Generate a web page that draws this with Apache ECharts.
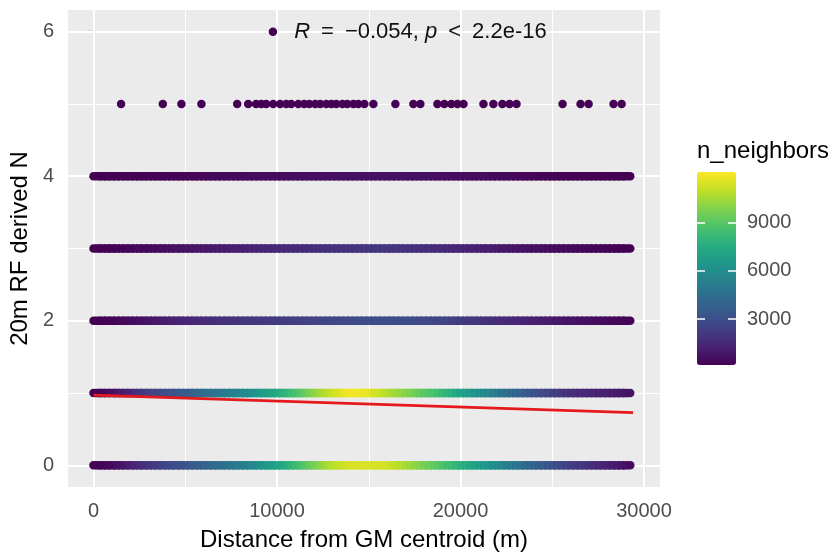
<!DOCTYPE html>
<html><head><meta charset="utf-8">
<script src="https://cdn.jsdelivr.net/npm/echarts@6/dist/echarts.min.js"></script>
<style>html,body{margin:0;padding:0;background:#fff}#chart{width:836px;height:557px}</style>
</head><body><div id="chart"></div>
<script>
// ---- data ----
const distance = [0,250,500,750,1000,1250,1500,1750,2000,2250,2500,2750,3000,3250,3500,3750,4000,4250,4500,4750,5000,5250,5500,5750,6000,6250,6500,6750,7000,7250,7500,7750,8000,8250,8500,8750,9000,9250,9500,9750,10000,10250,10500,10750,11000,11250,11500,11750,12000,12250,12500,12750,13000,13250,13500,13750,14000,14250,14500,14750,15000,15250,15500,15750,16000,16250,16500,16750,17000,17250,17500,17750,18000,18250,18500,18750,19000,19250,19500,19750,20000,20250,20500,20750,21000,21250,21500,21750,22000,22250,22500,22750,23000,23250,23500,23750,24000,24250,24500,24750,25000,25250,25500,25750,26000,26250,26500,26750,27000,27250,27500,27750,28000,28250,28500,28750,29000,29250];
// n_neighbors along each horizontal row (y = 0..4)
const nRow0 = [50,160,280,390, 500,680,850,1030, 1200,1400,1600,1800, 2000,2160,2330,2490, 2650,2800,2950,3100, 3250,3400,3550,3700, 3850,4000,4150,4300, 4450,4630,4800,4980, 5150,5360,5580,5790, 6000,6250,6500,6750, 7000,7300,7600,7900, 8200,8550,8900,9250, 9600,9900,10200,10500, 10800,10950,11100,11250, 11400,11430,11450,11480, 11500,11450,11400,11350, 11300,11130,10950,10780, 10600,10380,10150,9930, 9700,9480,9250,9030, 8800,8550,8300,8050, 7800,7550,7300,7050, 6800,6580,6350,6130, 5900,5650,5400,5150, 4900,4650,4400,4150, 4000,3780,3550,3330, 3100,2930,2750,2580, 2400,2250,2100,1950, 1800,1680,1550,1430, 1300,1150,1000,850, 700,500];
const nRow1 = [50,190,330,460, 600,800,1000,1200, 1400,1650,1900,2150, 2400,2550,2700,2850, 3000,3150,3300,3450, 3600,3780,3950,4130, 4300,4480,4650,4830, 5000,5150,5300,5450, 5600,5800,6000,6200, 6400,6650,6900,7150, 7400,7700,8000,8300, 8600,8950,9300,9650, 10000,10300,10600,10900, 11200,11400,11600,11800, 12000,11950,11850,11780, 11700,11480,11250,11030, 10800,10600,10400,10200, 10000,9780,9550,9330, 9100,8880,8650,8430, 8200,7950,7700,7450, 7200,6930,6650,6380, 6100,5830,5550,5280, 5000,4780,4550,4330, 4100,3880,3650,3430, 3200,3000,2800,2600, 2400,2250,2100,1950, 1800,1710,1630,1540, 1450,1390,1330,1260, 1200,1110,1030,940, 850,750];
const nRow2 = [80,120,170,210, 250,310,380,440, 500,580,650,730, 800,880,950,1030, 1100,1180,1250,1330, 1400,1450,1500,1550, 1600,1650,1700,1750, 1800,1840,1880,1910, 1950,1990,2030,2060, 2100,2130,2150,2180, 2200,2240,2280,2310, 2350,2390,2430,2460, 2500,2540,2580,2610, 2650,2690,2730,2760, 2800,2830,2850,2880, 2900,2910,2930,2940, 2950,2940,2930,2910, 2900,2880,2850,2830, 2800,2740,2680,2610, 2550,2480,2400,2330, 2250,2180,2100,2030, 1950,1890,1830,1760, 1700,1640,1580,1510, 1450,1390,1330,1260, 1200,1150,1100,1050, 1000,950,900,850, 800,750,700,650, 600,560,530,490, 450,410,380,340, 300,260];
const nRow3 = [60,80,110,130, 150,190,230,260, 300,340,380,410, 450,490,530,560, 600,640,680,710, 750,790,830,860, 900,940,980,1010, 1050,1090,1130,1160, 1200,1240,1280,1310, 1350,1390,1430,1460, 1500,1530,1550,1580, 1600,1630,1650,1680, 1700,1730,1750,1780, 1800,1830,1850,1880, 1900,1930,1950,1980, 2000,2000,2000,2000, 2000,1980,1950,1930, 1900,1860,1830,1790, 1750,1710,1680,1640, 1600,1550,1500,1450, 1400,1350,1300,1250, 1200,1150,1100,1050, 1000,960,930,890, 850,810,780,740, 700,660,630,590, 550,520,490,450, 420,400,370,350, 320,300,280,250, 230,210,190,170, 150,120];
const nRow4 = [50,60,70,75, 80,90,100,110, 120,130,145,160, 170,180,195,210, 220,230,245,260, 270,280,295,310, 320,330,345,360, 370,380,395,410, 420,430,445,460, 470,480,495,510, 520,530,540,550, 560,570,580,590, 600,610,620,630, 640,650,655,665, 670,680,685,695, 700,700,700,700, 700,695,690,685, 680,670,665,655, 650,640,625,610, 600,590,575,560, 550,530,515,500, 480,465,450,435, 420,405,390,375, 360,345,330,315, 300,290,275,260, 250,240,225,210, 200,190,180,170, 160,150,140,130, 120,110,105,95, 90,80];
const rowLevels = [0, 1, 2, 3, 4];
// sparse points at y = 5
const x5 = [1500,3775,4790,5880,7830,8430,8860,9140,9410,9790,10170,10500,10770,11160,11480,11760,12080,12360,12680,12960,13230,13560,13830,14160,14430,14760,15250,16450,17430,17810,18740,19120,19500,19830,20160,21250,21790,22280,22670,23050,25560,26540,26980,28340,28780];
const n5 = [30,30,30,30,30,30,30,30,30,30,30,30,30,30,30,30,30,30,30,30,30,30,30,30,30,30,30,30,30,30,30,30,30,30,30,30,30,30,30,30,30,30,30,30,30];
// single point at y = 6
const x6 = [9775];
const n6 = [30];
// linear fit (red)
const fitX = [0, 29400];
const fitY = [0.97, 0.73];
const corLabel = ['R', '\u2002=\u2002\u22120.054, ', 'p', '\u2002<\u20022.2e-16'];
// axes / ticks
const xTicks = [0, 10000, 20000, 30000];
const xMinor = [5000, 15000, 25000];
const yTicks = [0, 2, 4, 6];
const yMinor = [1, 3, 5];
const colorTicks = [3000, 6000, 9000];
const colorRange = [150, 12150];
const viridis = ['#440154','#482475','#414487','#355f8d','#2a788e','#21918c','#22a884','#44bf70','#7ad151','#bddf26','#fde725'];

// ---- build ----
const FONT = 'Liberation Sans, Arial, sans-serif';
const DOT = 8.5;
const rows = [nRow0, nRow1, nRow2, nRow3, nRow4];
const rowPts = [];
rows.forEach((vals, r) => {
  vals.forEach((v, i) => {
    const isEnd = (i === 0 || i === vals.length - 1);
    rowPts.push(isEnd
      ? { value: [distance[i], rowLevels[r], v], symbol: 'circle', symbolSize: DOT }
      : { value: [distance[i], rowLevels[r], v] });
  });
});
const dotPts = [];
x5.forEach((x, i) => dotPts.push([x, 5, n5[i]]));
dotPts.push({ value: [x6[0], 6, n6[0]], label: {
  show: true, position: 'right', distance: 17,
  formatter: '{i|' + corLabel[0] + '}' + corLabel[1] + '{i|' + corLabel[2] + '}' + corLabel[3],
  fontSize: 22, color: '#111', fontFamily: FONT,
  rich: { i: { fontStyle: 'italic', fontSize: 22, color: '#111', fontFamily: FONT } }
}});

const plain = v => String(v);
const gridLines = [];
xTicks.forEach(v => gridLines.push({ xAxis: v, lineStyle: { color: '#fff', width: 2, type: 'solid' } }));
xMinor.forEach(v => gridLines.push({ xAxis: v, lineStyle: { color: '#fff', width: 1, type: 'solid' } }));
yTicks.forEach(v => gridLines.push({ yAxis: v, lineStyle: { color: '#fff', width: 2, type: 'solid' } }));
yMinor.forEach(v => gridLines.push({ yAxis: v, lineStyle: { color: '#fff', width: 1, type: 'solid' } }));

const chart = echarts.init(document.getElementById('chart'), null, { renderer: 'canvas' });
chart.setOption({
  animation: false,
  backgroundColor: '#ffffff',
  textStyle: { fontFamily: FONT },
  title: {
    text: 'n_neighbors', left: 697, top: 139, padding: 0,
    textStyle: { fontSize: 24, fontWeight: 'normal', color: '#000', fontFamily: FONT }
  },
  grid: [
    { left: 68, top: 10, width: 592, height: 478, show: true, backgroundColor: '#ebebeb', borderWidth: 0, z: 0 },
    { left: 697, top: 172, width: 39, height: 193, show: false }
  ],
  xAxis: [
    {
      type: 'value', gridIndex: 0, min: -1390, max: 30870,
      name: 'Distance from GM centroid (m)', nameLocation: 'middle', nameGap: 41,
      nameTextStyle: { fontSize: 24, color: '#000', fontFamily: FONT },
      axisLine: { show: false },
      axisTick: { show: true, customValues: xTicks, length: 6, lineStyle: { color: '#333', width: 1.2 } },
      axisLabel: { customValues: xTicks, formatter: plain, margin: 14, fontSize: 20, color: '#4d4d4d', fontFamily: FONT },
      splitLine: { show: false }
    },
    { type: 'value', gridIndex: 1, min: 0, max: 1, show: false }
  ],
  yAxis: [
    {
      type: 'value', gridIndex: 0, min: -0.3, max: 6.3,
      name: '20m RF derived N', nameLocation: 'middle', nameGap: 22, nameRotate: 90,
      nameTextStyle: { fontSize: 24, color: '#000', fontFamily: FONT },
      axisLine: { show: false },
      axisTick: { show: true, customValues: yTicks, length: 6, lineStyle: { color: '#333', width: 1.2 } },
      axisLabel: { customValues: yTicks, formatter: plain, margin: 14, fontSize: 20, color: '#4d4d4d', fontFamily: FONT },
      splitLine: { show: false }
    },
    {
      type: 'value', gridIndex: 1, position: 'left', min: colorRange[0], max: colorRange[1], z: 20,
      axisLine: { show: false },
      axisTick: { show: true, inside: true, customValues: colorTicks, length: 8, lineStyle: { color: '#fff', width: 1.5 } },
      axisLabel: { show: false }, splitLine: { show: false }
    },
    {
      type: 'value', gridIndex: 1, position: 'right', min: colorRange[0], max: colorRange[1], z: 20,
      axisLine: { show: false },
      axisTick: { show: true, inside: true, customValues: colorTicks, length: 8, lineStyle: { color: '#fff', width: 1.5 } },
      axisLabel: { customValues: colorTicks, formatter: plain, margin: 11, fontSize: 20, color: '#4d4d4d', fontFamily: FONT },
      splitLine: { show: false }
    }
  ],
  visualMap: {
    type: 'continuous', show: true, seriesIndex: [1, 2], dimension: 2,
    min: colorRange[0], max: colorRange[1], calculable: false, hoverLink: false,
    left: 697, top: 172, itemWidth: 39, itemHeight: 193, padding: 0, z: 1,
    inRange: { color: viridis }, text: null
  },
  series: [
    {
      type: 'line', xAxisIndex: 0, yAxisIndex: 0, data: [], z: 1, silent: true,
      markLine: { silent: true, z: 1, symbol: ['none', 'none'], label: { show: false }, data: gridLines }
    },
    {
      type: 'scatter', xAxisIndex: 0, yAxisIndex: 0, data: rowPts, symbol: 'rect', symbolSize: [7, DOT], z: 3,
      large: false, progressive: 0,
      itemStyle: { opacity: 1, borderWidth: 0 }, silent: true, emphasis: { disabled: true }
    },
    {
      type: 'scatter', xAxisIndex: 0, yAxisIndex: 0, data: dotPts, symbol: 'circle', symbolSize: DOT, z: 3,
      itemStyle: { opacity: 1, borderWidth: 0 }, silent: true, emphasis: { disabled: true }
    },
    {
      type: 'line', xAxisIndex: 0, yAxisIndex: 0, data: fitX.map((x, i) => [x, fitY[i]]),
      showSymbol: false, symbol: 'none', z: 4, silent: true,
      lineStyle: { color: '#e3191c', width: 2.8 }
    },
    { type: 'scatter', xAxisIndex: 1, yAxisIndex: 1, data: [] }
  ]
});
</script></body></html>
